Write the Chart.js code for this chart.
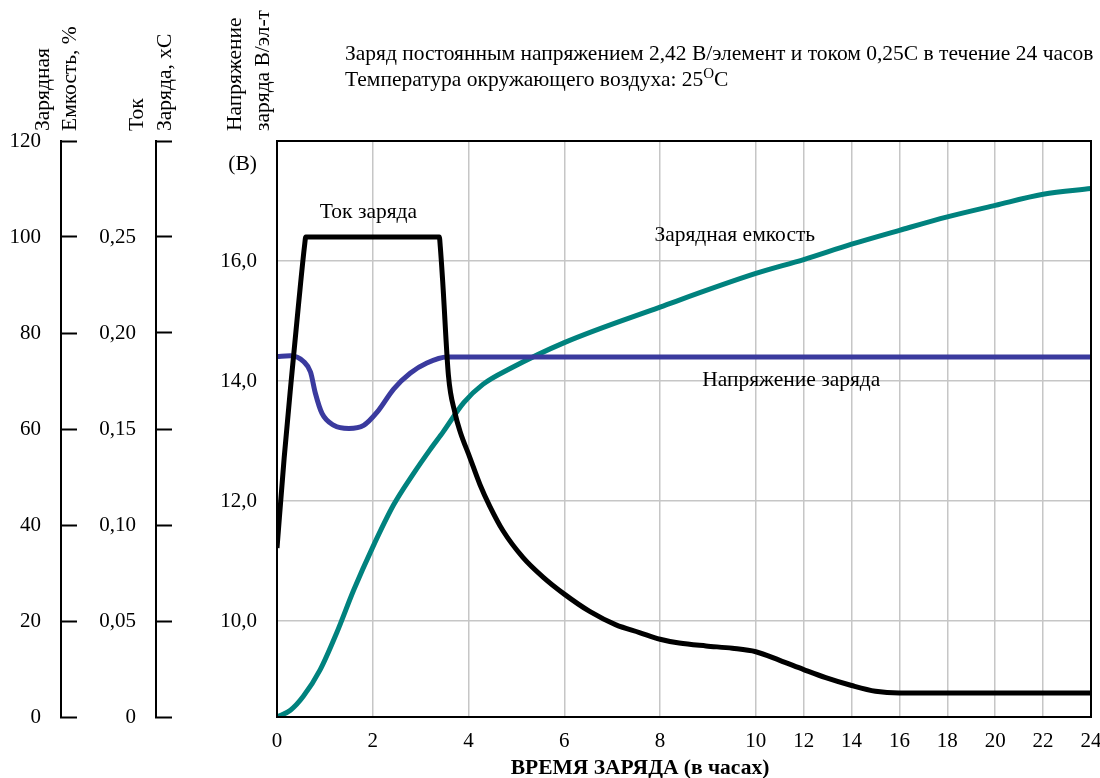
<!DOCTYPE html>
<html>
<head>
<meta charset="utf-8">
<script src="https://cdn.jsdelivr.net/npm/chart.js@4.4.1/dist/chart.umd.min.js"></script>
<style>
  html, body { margin: 0; padding: 0; background: #fff; }
  #wrap { width: 1100px; height: 778px; }
</style>
</head>
<body>
<div id="wrap"><canvas id="chart" width="1100" height="778"></canvas></div>
<script>
// ---- tick values and labels ----
const hourTicks = [0, 2, 4, 6, 8, 10, 12, 14, 16, 18, 20, 22, 24];
const capacityTicks = [0, 20, 40, 60, 80, 100, 120];
const capacityTickLabels = ['0', '20', '40', '60', '80', '100', '120'];
const currentTicks = [0, 0.05, 0.10, 0.15, 0.20, 0.25, 0.30];
const currentTickLabels = ['0', '0,05', '0,10', '0,15', '0,20', '0,25', ''];
const voltageTicks = [10, 12, 14, 16];
const voltageTickLabels = ['10,0', '12,0', '14,0', '16,0'];

// ---- charge current, xC ----
const currentHours = [0, 0.15, 0.3, 0.45, 0.58, 0.6, 3.39, 3.41, 3.46, 3.58, 3.72, 3.82, 4.03, 4.24, 4.44, 4.72,
  5.14, 5.55, 6.0, 6.53, 7.08, 7.57, 8.0, 8.4, 8.96, 9.51, 10.0, 11.0, 12.0, 12.92, 14.0, 15.0, 16.0, 24.0];
const currentValues = [0.088, 0.135, 0.176, 0.215, 0.2465, 0.25, 0.25, 0.245, 0.227, 0.178, 0.158, 0.149, 0.135, 0.121, 0.110, 0.097,
  0.083, 0.073, 0.064, 0.055, 0.048, 0.044, 0.0405, 0.0385, 0.037, 0.0358, 0.034, 0.0295, 0.0247, 0.0205, 0.0164, 0.0134, 0.0125, 0.0125];

// ---- charged capacity, % ----
const capacityHours = [0, 0.28, 0.55, 0.9, 1.25, 1.6, 2.0, 2.43, 2.85, 3.19, 3.47, 3.9, 4.3, 4.87, 6.0, 8.0, 10.0,
  12.0, 14.0, 16.0, 18.0, 20.0, 22.0, 24.0];
const capacityValues = [0, 1.4, 4.3, 9.8, 17.6, 26.4, 35.4, 44.1, 50.7, 55.6, 59.4, 65.5, 69.3, 72.6, 78.0, 85.4, 92.4,
  95.3, 98.5, 101.4, 104.2, 106.6, 108.9, 110.1];

// ---- charge voltage, V per block ----
const voltageHours = [0, 0.28, 0.56, 0.7, 0.8, 0.94, 1.19, 1.5, 1.81, 2.09, 2.44, 2.78, 3.13, 3.55, 24.0];
const voltageValues = [14.41, 14.42, 14.32, 14.15, 13.8, 13.46, 13.26, 13.21, 13.26, 13.48, 13.87, 14.13, 14.3, 14.4, 14.4];

// ---- curve captions: text, hour, value, axis ----
const captionTexts = ['Ток заряда', 'Зарядная емкость', 'Напряжение заряда'];
const captionHours = [1.91, 9.56, 11.48];
const captionValues = [0.263, 100.4, 14.01];
const captionAxes = ['yI', 'yP', 'yV'];

const FONT = 'Liberation Serif';
const TEXT = `21.5px "${FONT}"`;
const GRID = '#c6c6c6';
const TEAL = '#00827e';
const BLUE = '#3a3a9e';

// Time axis: the first 10 hours at full width, the rest at half width.
const FOLD = 10;
const foldHours = h => (h <= FOLD ? h : FOLD + (h - FOLD) / 2);
const unfoldHours = u => (u <= FOLD ? u : FOLD + (u - FOLD) * 2);

class FoldedScale extends Chart.LinearScale {
  getPixelForValue(value) {
    if (value === null || value === undefined) return NaN;
    const a = foldHours(this.min), b = foldHours(this.max);
    return this.getPixelForDecimal((foldHours(value) - a) / (b - a));
  }
  getValueForPixel(pixel) {
    const a = foldHours(this.min), b = foldHours(this.max);
    return unfoldHours(a + this.getDecimalForPixel(pixel) * (b - a));
  }
}
FoldedScale.id = 'folded';
FoldedScale.defaults = Chart.LinearScale.defaults;
Chart.register(FoldedScale);

const toPoints = (xs, ys) => xs.map((x, i) => ({ x, y: ys[i] }));
const setTicks = values => scale => { scale.ticks = values.map(v => ({ value: v })); };

Chart.defaults.font.family = FONT;
Chart.defaults.font.size = 21;
Chart.defaults.color = '#000';

// Frame, headings, rotated axis names and curve captions.
const decor = {
  id: 'decor',
  afterDatasetsDraw(chart) {
    const { ctx, chartArea: a, scales } = chart;
    ctx.save();
    ctx.strokeStyle = '#000';
    ctx.lineWidth = 2;
    ctx.strokeRect(a.left, a.top, a.right - a.left, a.bottom - a.top);

    ctx.fillStyle = '#000';
    ctx.font = TEXT;
    ctx.textBaseline = 'middle';

    // curve captions
    ctx.textAlign = 'center';
    captionTexts.forEach((t, i) => {
      const x = scales.x.getPixelForValue(captionHours[i]);
      const y = scales[captionAxes[i]].getPixelForValue(captionValues[i]);
      ctx.fillText(t, x, y);
    });

    // unit mark of the voltage scale
    ctx.textAlign = 'right';
    ctx.fillText('(В)', a.left - 20, a.top + 23);

    // heading
    ctx.textAlign = 'left';
    ctx.textBaseline = 'alphabetic';
    const hx = a.left + 68;
    ctx.fillText('Заряд постоянным напряжением 2,42 В/элемент и током 0,25С в течение 24 часов', hx, 60);
    const line2 = 'Температура окружающего воздуха: 25';
    ctx.fillText(line2, hx, 86);
    const w = ctx.measureText(line2).width;
    ctx.font = `15px "${FONT}"`;
    ctx.fillText('O', hx + w, 78);
    const wo = ctx.measureText('O').width;
    ctx.font = TEXT;
    ctx.fillText('C', hx + w + wo, 86);

    // time axis title
    ctx.font = `bold 21.5px "${FONT}"`;
    ctx.textAlign = 'center';
    ctx.textBaseline = 'middle';
    ctx.fillText('ВРЕМЯ ЗАРЯДА (в часах)', a.left + 363, a.bottom + 51);

    // rotated axis names
    ctx.font = TEXT;
    const names = [
      ['yP', ['Зарядная', 'Емкость, %'], [-18, 9]],
      ['yI', ['Ток', 'Заряда, хС'], [-19, 9]],
      ['yV', ['Напряжение', 'заряда В/эл-т'], [-42, -14]]
    ];
    ctx.textAlign = 'left';
    names.forEach(([id, lines, offs]) => {
      const bx = scales[id].right;
      lines.forEach((t, i) => {
        ctx.save();
        ctx.translate(bx + offs[i], a.top - 10);
        ctx.rotate(-Math.PI / 2);
        ctx.fillText(t, 0, 0);
        ctx.restore();
      });
    });
    ctx.restore();
  }
};

const sideAxis = (min, max, ticks, labels, weight, width) => ({
  position: 'left',
  weight,
  min,
  max,
  afterBuildTicks: setTicks(ticks),
  afterFit: s => { s.width = width; },
  grid: { drawOnChartArea: false, drawTicks: true, tickLength: -16, tickColor: '#000', tickWidth: 2 },
  border: { display: true, color: '#000', width: 2 },
  ticks: { padding: 36, color: '#000', callback: (v, i) => labels[i] }
});

new Chart(document.getElementById('chart'), {
  type: 'line',
  data: {
    datasets: [
      {
        label: 'Ток заряда',
        data: toPoints(currentHours, currentValues),
        yAxisID: 'yI',
        borderColor: '#000',
        borderWidth: 5,
        cubicInterpolationMode: 'monotone',
        pointRadius: 0,
        fill: false
      },
      {
        label: 'Напряжение заряда',
        data: toPoints(voltageHours, voltageValues),
        yAxisID: 'yV',
        borderColor: BLUE,
        borderWidth: 5,
        cubicInterpolationMode: 'monotone',
        pointRadius: 0,
        fill: false
      },
      {
        label: 'Зарядная емкость',
        data: toPoints(capacityHours, capacityValues),
        yAxisID: 'yP',
        borderColor: TEAL,
        borderWidth: 5,
        cubicInterpolationMode: 'monotone',
        pointRadius: 0,
        fill: false
      }
    ]
  },
  options: {
    responsive: false,
    animation: false,
    devicePixelRatio: 1,
    layout: { padding: { top: 141, right: 9, bottom: 0, left: 0 } },
    plugins: { legend: { display: false }, tooltip: { enabled: false } },
    scales: {
      x: {
        type: 'folded',
        min: 0,
        max: 24,
        afterBuildTicks: setTicks(hourTicks),
        afterFit: s => { s.height = 61; s.paddingLeft = 0; s.paddingRight = 0; },
        grid: {
          color: c => (c.tick && (c.tick.value === 0 || c.tick.value === 24)) ? 'rgba(0,0,0,0)' : GRID,
          lineWidth: 1.5,
          drawTicks: false
        },
        border: { display: true, color: '#000', width: 2 },
        ticks: { autoSkip: false, maxRotation: 0, padding: 12, color: '#000', callback: v => String(v) }
      },
      yV: {
        position: 'left',
        weight: 1,
        min: 8.4,
        max: 18,
        afterBuildTicks: setTicks(voltageTicks),
        afterFit: s => { s.width = 121; },
        grid: { color: GRID, lineWidth: 1.5, drawTicks: false },
        border: { display: true, color: '#000', width: 2 },
        ticks: { padding: 20, color: '#000', callback: (v, i) => voltageTickLabels[i] }
      },
      yI: sideAxis(0, 0.30, currentTicks, currentTickLabels, 2, 95),
      yP: sideAxis(0, 120, capacityTicks, capacityTickLabels, 3, 61)
    }
  },
  plugins: [decor]
});
</script>
</body>
</html>
